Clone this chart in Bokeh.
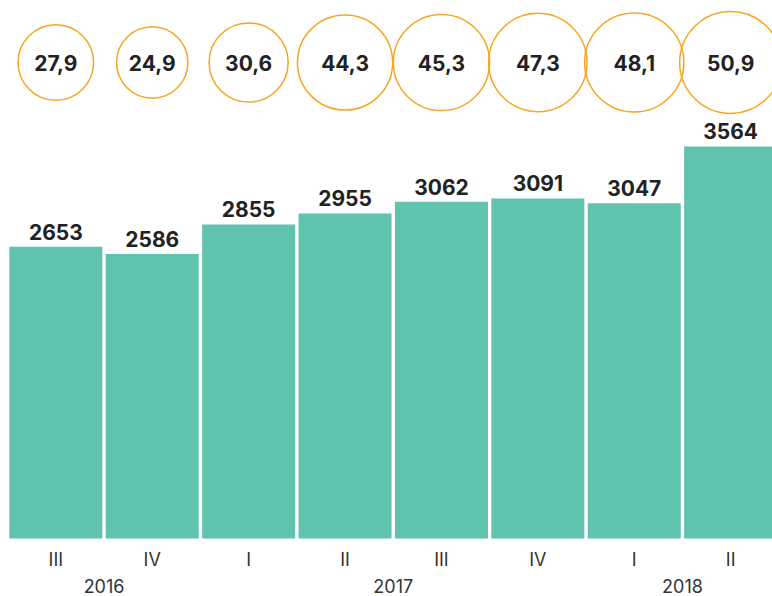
from bokeh.plotting import figure
from bokeh.models import ColumnDataSource, Range1d
from bokeh.core.properties import value
from bokeh.embed import file_html
from bokeh.resources import INLINE
import math

quarters = ["III", "IV", "I", "II", "III", "IV", "I", "II"]
years = ["2016", "2017", "2018"]
year_pos = [0.5, 3.5, 6.5]
bar_values = [2653, 2586, 2855, 2955, 3062, 3091, 3047, 3564]
circle_values = [27.9, 24.9, 30.6, 44.3, 45.3, 47.3, 48.1, 50.9]
circle_labels = ["27,9", "24,9", "30,6", "44,3", "45,3", "47,3", "48,1", "50,9"]

W, H = 772, 596
PX_PER_UNIT = 0.11
BASE_FROM_BOTTOM = 58
y0 = -BASE_FROM_BOTTOM / PX_PER_UNIT
y1 = (H - BASE_FROM_BOTTOM) / PX_PER_UNIT
CIRCLE_Y = (H - 62 - BASE_FROM_BOTTOM) / PX_PER_UNIT

xs = list(range(len(bar_values)))
src = ColumnDataSource(dict(
    x=xs,
    top=bar_values,
    vlabel=[str(v) for v in bar_values],
    q=quarters,
    cy=[CIRCLE_Y] * len(xs),
    csize=[2 * 7.15 * math.sqrt(v) for v in circle_values],
    clabel=circle_labels,
))

p = figure(width=W, height=H, output_backend="svg", toolbar_location=None,
           x_range=Range1d(-0.574, 7.434), y_range=Range1d(y0, y1),
           min_border=0, min_border_left=0, min_border_right=0,
           min_border_top=0, min_border_bottom=0)
p.xaxis.visible = False
p.yaxis.visible = False
p.grid.visible = False
p.outline_line_color = None
p.background_fill_color = "white"
p.border_fill_color = "white"

p.vbar(x="x", top="top", bottom=0, width=0.965, source=src,
       fill_color="#60C3AE", line_color=None)

p.text(x="x", y="top", text="vlabel", source=src,
       text_font=value("Inter"), text_font_style="bold", text_font_size="21px",
       text_color="#222222", text_align="center", text_baseline="middle",
       y_offset=-15)

p.scatter(x="x", y="cy", size="csize", source=src, marker="circle",
          fill_color=None, line_color="#F5A623", line_width=1.5)

p.text(x="x", y="cy", text="clabel", source=src,
       text_font=value("Inter"), text_font_style="bold", text_font_size="21px",
       text_color="#222222", text_align="center", text_baseline="middle")

p.text(x="x", y=0, text="q", source=src,
       text_font=value("Inter"), text_font_size="18px",
       text_color="#333333", text_align="center", text_baseline="middle",
       y_offset=21)

ysrc = ColumnDataSource(dict(x=year_pos, t=years))
p.text(x="x", y=0, text="t", source=ysrc,
       text_font=value("Inter"), text_font_size="18px",
       text_color="#333333", text_align="center", text_baseline="middle",
       y_offset=47)

open("out.html", "w").write(file_html(p, INLINE))
